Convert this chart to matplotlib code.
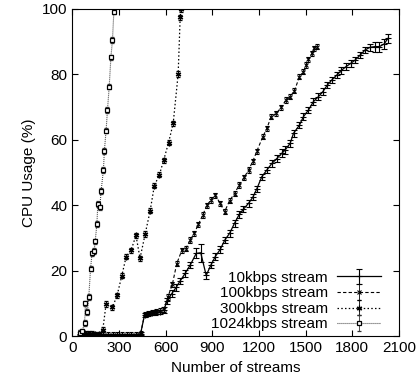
import matplotlib
matplotlib.use("Agg")
import matplotlib.pyplot as plt

plt.rcParams['font.family'] = ['Liberation Sans', 'DejaVu Sans']

# 10kbps stream (solid, + markers, error bars)
x_10 = [50, 80, 110, 140, 170, 200, 230, 260, 290, 320, 350, 380, 410, 440,
        465, 490, 516, 540, 565, 590, 608, 640, 668, 694, 726, 758, 797, 826,
        861, 891, 919, 951, 981, 1011, 1043, 1073, 1100, 1133, 1161, 1186,
        1218, 1251, 1283, 1315, 1347, 1368, 1400, 1422, 1460, 1486, 1518,
        1550, 1582, 1610, 1640, 1668, 1700, 1728, 1760, 1790, 1818, 1850,
        1882, 1914, 1946, 1974, 2004, 2028]
y_10 = [0.3, 0.3, 0.3, 0.3, 0.3, 0.3, 0.3, 0.3, 0.3, 0.3, 0.3, 0.3, 0.4, 0.8,
        6.5, 6.8, 7.1, 7.3, 7.5, 8.0, 10.7, 13.0, 14.9, 16.9, 19.2, 21.7, 25.3, 25.5,
        18.6, 21.7, 24.3, 26.5, 29.4, 31.4, 34.5, 37.2, 38.8, 40.6, 42.5, 45.0,
        48.7, 50.8, 52.8, 54.3, 55.9, 56.9, 58.9, 62.0, 64.5, 67.1, 69.1,
        71.7, 73.2, 74.7, 76.8, 78.3, 79.8, 81.2, 82.4, 83.4, 84.4, 85.9,
        87.5, 88.3, 88.5, 88.5, 89.3, 91.0]
e_10 = [0.3, 0.3, 0.3, 0.3, 0.3, 0.3, 0.3, 0.3, 0.3, 0.3, 0.3, 0.3, 0.3, 0.4,
        0.6, 0.6, 0.6, 0.6, 0.6, 0.8, 1.0, 1.0, 1.0, 1.0, 1.0, 1.0, 1.5, 2.8,
        1.0, 1.0, 1.0, 1.0, 1.0, 1.0, 1.0, 1.0, 1.0, 1.0, 1.0, 1.0,
        1.0, 1.0, 1.0, 1.0, 1.2, 1.2, 1.0, 1.0, 1.0, 1.0, 1.0,
        1.0, 1.0, 1.0, 1.0, 1.0, 1.0, 1.0, 1.0, 1.0, 1.0, 1.0,
        1.0, 1.0, 1.5, 1.5, 1.5, 1.5]

# 100kbps stream (dashed, x markers)
x_100 = [50, 80, 110, 140, 170, 200, 230, 260, 290, 320, 350, 380, 410, 440,
         465, 490, 516, 540, 565, 590, 615, 644, 672, 705, 730, 758, 784, 811,
         839, 865, 891, 919, 951, 979, 1011, 1043, 1073, 1105, 1133, 1161,
         1186, 1225, 1251, 1278, 1311, 1343, 1373, 1400, 1428, 1460, 1486,
         1503, 1518, 1540, 1556, 1572]
y_100 = [0.5, 0.5, 0.5, 0.5, 0.5, 0.5, 0.5, 0.5, 0.5, 0.5, 0.5, 0.5, 0.5, 0.8,
         6.6, 6.9, 7.2, 7.4, 7.7, 8.2, 12.0, 15.9, 22.2, 26.3, 26.7, 29.4, 31.4, 34.2,
         37.0, 40.0, 41.6, 43.1, 40.6, 38.0, 41.4, 43.6, 46.2, 48.5, 50.8, 53.5,
         56.5, 61.0, 63.5, 67.1, 68.1, 69.9, 72.2, 73.2, 75.0, 79.3, 80.8,
         82.9, 84.6, 86.4, 88.0, 88.5]
ERR_100 = 0.8

# 300kbps stream (dotted, * markers)
x_300 = [50, 70, 90, 110, 130, 150, 170, 197, 218, 259, 289, 319, 347, 379,
         410, 436, 469, 501, 528, 561, 588, 619, 649, 681, 694, 700]
y_300 = [1.0, 1.0, 0.8, 0.8, 0.8, 0.6, 0.6, 2.0, 9.8, 8.8, 12.5, 18.5, 24.3, 26.3,
         30.8, 23.8, 31.2, 38.3, 46.0, 49.4, 53.8, 59.1, 65.0, 80.1, 97.5, 100.0]
ERR_300 = 0.8

# 1024kbps stream (fine dotted, open squares)
x_1024 = [50, 64, 80, 85, 98, 107, 118, 128, 141, 148, 159, 165, 178, 186,
          201, 207, 218, 227, 238, 249, 259, 268]
y_1024 = [1.0, 1.5, 4.0, 10.0, 7.4, 12.0, 20.6, 25.3, 26.0, 29.0, 34.3, 40.4,
          39.4, 44.4, 50.8, 56.6, 62.8, 69.1, 76.2, 85.2, 90.5, 99.2]
ERR_1024 = 0.8

x_ticks = [0, 300, 600, 900, 1200, 1500, 1800, 2100]
y_ticks = [0, 20, 40, 60, 80, 100]

fig = plt.figure(figsize=(4.17, 3.90), dpi=100)
ax = fig.add_axes([0.173, 0.138, 0.784, 0.839])

ax.errorbar(x_10, y_10, yerr=e_10, color='black', linestyle='-', linewidth=0.9,
            marker='+', markersize=4, mew=0.8, capsize=2, elinewidth=0.8,
            label='10kbps stream')
ax.errorbar(x_100, y_100, yerr=ERR_100, color='black', linestyle=(0, (3, 2)),
            linewidth=0.8, marker='x', markersize=3.5, mew=0.8, capsize=1.5,
            elinewidth=0.6, label='100kbps stream')
ax.errorbar(x_300, y_300, yerr=ERR_300, color='black', linestyle=(0, (1.2, 1.8)),
            linewidth=0.9, marker=(6, 2, 0), markersize=4, mew=0.9, capsize=1.5,
            elinewidth=0.6, label='300kbps stream')
ax.errorbar(x_1024, y_1024, yerr=ERR_1024, color='#333333', linestyle=(0, (0.8, 1.0)),
            linewidth=0.8, marker='s', markersize=3.5, mfc='white', mec='black',
            mew=0.9, capsize=1.5, elinewidth=0.6, label='1024kbps stream')

ax.set_xlim(0, 2100)
ax.set_ylim(0, 100)
ax.set_xticks(x_ticks)
ax.set_yticks(y_ticks)
ax.tick_params(direction='in', top=True, right=True, length=4, labelsize=11,
               width=0.8)
ax.set_xlabel('Number of streams', fontsize=11)
ax.set_ylabel('CPU Usage (%)', fontsize=11)

leg = ax.legend(loc='lower right', frameon=False, fontsize=11, markerfirst=False,
                handlelength=2.9, handletextpad=0.6, labelspacing=0.1,
                borderaxespad=0.3, bbox_to_anchor=(0.978, -0.018))
for t in leg.get_texts():
    t.set_ha('right')

fig.savefig('out.png', dpi=100)
